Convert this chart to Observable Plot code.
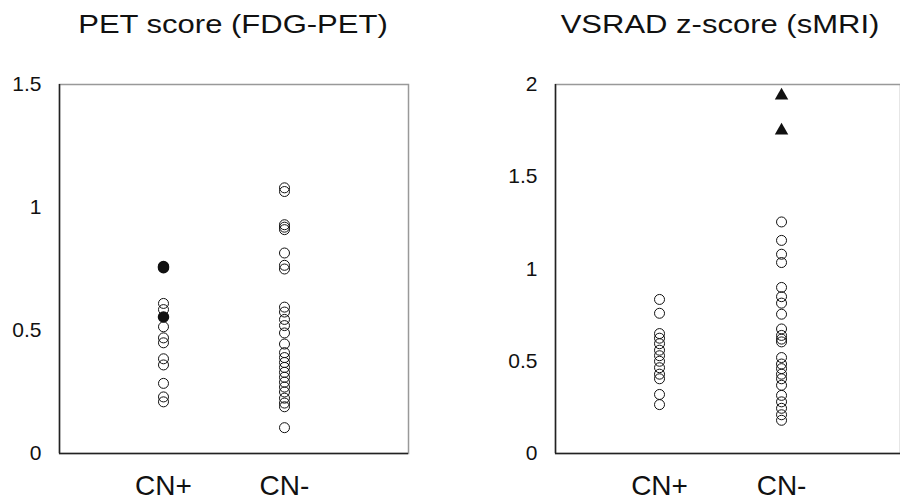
<!DOCTYPE html>
<html>
<head>
<meta charset="utf-8">
<script src="https://cdn.jsdelivr.net/npm/d3@7"></script>
<script src="https://cdn.jsdelivr.net/npm/@observablehq/plot@0.6"></script>
<style>
  body { margin: 0; background: #fff; font-family: "Liberation Sans", Arial, sans-serif; }
  #wrap { display: flex; width: 900px; height: 500px; overflow: hidden; }
  .panel { position: relative; width: 450px; height: 500px; }
  .title { position: absolute; top: 0; width: 400px; height: 60px; box-sizing: border-box;
           padding-top: 8px; line-height: 32px; font-size: 26.5px; text-align: center; color: #111;
           transform: scaleX(1.17); transform-origin: 50% 0; }
  .chart { position: absolute; top: 60px; left: 0; }
</style>
</head>
<body>
<div id="wrap">
  <div class="panel"><div class="title" style="left:33px">PET score (FDG-PET)</div><div class="chart" id="c1"></div></div>
  <div class="panel"><div class="title" style="left:70px">VSRAD z-score (sMRI)</div><div class="chart" id="c2"></div></div>
</div>
<script>
const groups = ["CN+", "CN-"];

// PET score (FDG-PET)
const petCNplusOpen = [0.61, 0.585, 0.515, 0.47, 0.45, 0.385, 0.36, 0.285, 0.23, 0.21];
const petCNplusFilled = [0.76, 0.755, 0.555];
const petCNminus = [1.08, 1.065, 0.93, 0.92, 0.91, 0.815, 0.765, 0.75, 0.595, 0.575, 0.545, 0.52, 0.49, 0.445, 0.41, 0.39, 0.37, 0.35, 0.33, 0.31, 0.29, 0.27, 0.25, 0.225, 0.205, 0.19, 0.105];
const petTicks = [0, 0.5, 1, 1.5];

// VSRAD z-score (sMRI)
const vsradCNplus = [0.835, 0.76, 0.65, 0.625, 0.595, 0.56, 0.53, 0.5, 0.465, 0.43, 0.405, 0.32, 0.265];
const vsradCNminusOpen = [1.255, 1.155, 1.08, 1.035, 0.9, 0.85, 0.815, 0.755, 0.675, 0.64, 0.62, 0.605, 0.52, 0.485, 0.46, 0.43, 0.405, 0.37, 0.315, 0.28, 0.245, 0.21, 0.18];
const vsradCNminusTri = [1.94, 1.75];
const vsradTicks = [0, 0.5, 1, 1.5, 2];

const rows = (g, arr) => arr.map(v => ({group: g, pos: groups.indexOf(g) + 1, value: v}));

function panel({marginLeft, marginRight, xDomain, yDomain, yTicks, open, filled, tri}) {
  return Plot.plot({
    width: 450, height: 440,
    marginTop: 24, marginBottom: 47, marginLeft, marginRight,
    style: {fontFamily: "'Liberation Sans', Arial, sans-serif", background: "#fff", color: "#111"},
    x: {domain: xDomain},
    y: {domain: yDomain},
    marks: [
      Plot.frame({stroke: "#999", strokeWidth: 1.5}),
      Plot.ruleY([yDomain[0]], {stroke: "#222", strokeWidth: 1.5}),
      Plot.ruleX([xDomain[0]], {stroke: "#222", strokeWidth: 1.5}),
      Plot.axisY({ticks: yTicks, tickSize: 0, tickPadding: 18, fontSize: 21, label: null, tickFormat: d => String(d)}),
      Plot.axisX({ticks: [1, 2], tickSize: 0, tickPadding: 22, fontSize: 28, label: null, tickFormat: i => groups[i - 1]}),
      Plot.dot(open, {x: "pos", y: "value", r: 5, stroke: "#111", strokeWidth: 1, fill: "none"}),
      Plot.dot(filled, {x: "pos", y: "value", r: 5, stroke: "#111", fill: "#111"}),
      Plot.dot(tri, {x: "pos", y: "value", r: 5, symbol: "triangle", fill: "#111", stroke: "none"})
    ]
  });
}

document.getElementById("c1").append(panel({
  marginLeft: 59, marginRight: 42, xDomain: [0.1405, 3.0248],
  yDomain: [0, 1.5], yTicks: petTicks,
  open: [...rows("CN+", petCNplusOpen), ...rows("CN-", petCNminus)],
  filled: rows("CN+", petCNplusFilled),
  tri: []
}));

document.getElementById("c2").append(panel({
  marginLeft: 105, marginRight: 0, xDomain: [0.1475, 2.975],
  yDomain: [0, 2], yTicks: vsradTicks,
  open: [...rows("CN+", vsradCNplus), ...rows("CN-", vsradCNminusOpen)],
  filled: [],
  tri: rows("CN-", vsradCNminusTri)
}));
</script>
</body>
</html>
